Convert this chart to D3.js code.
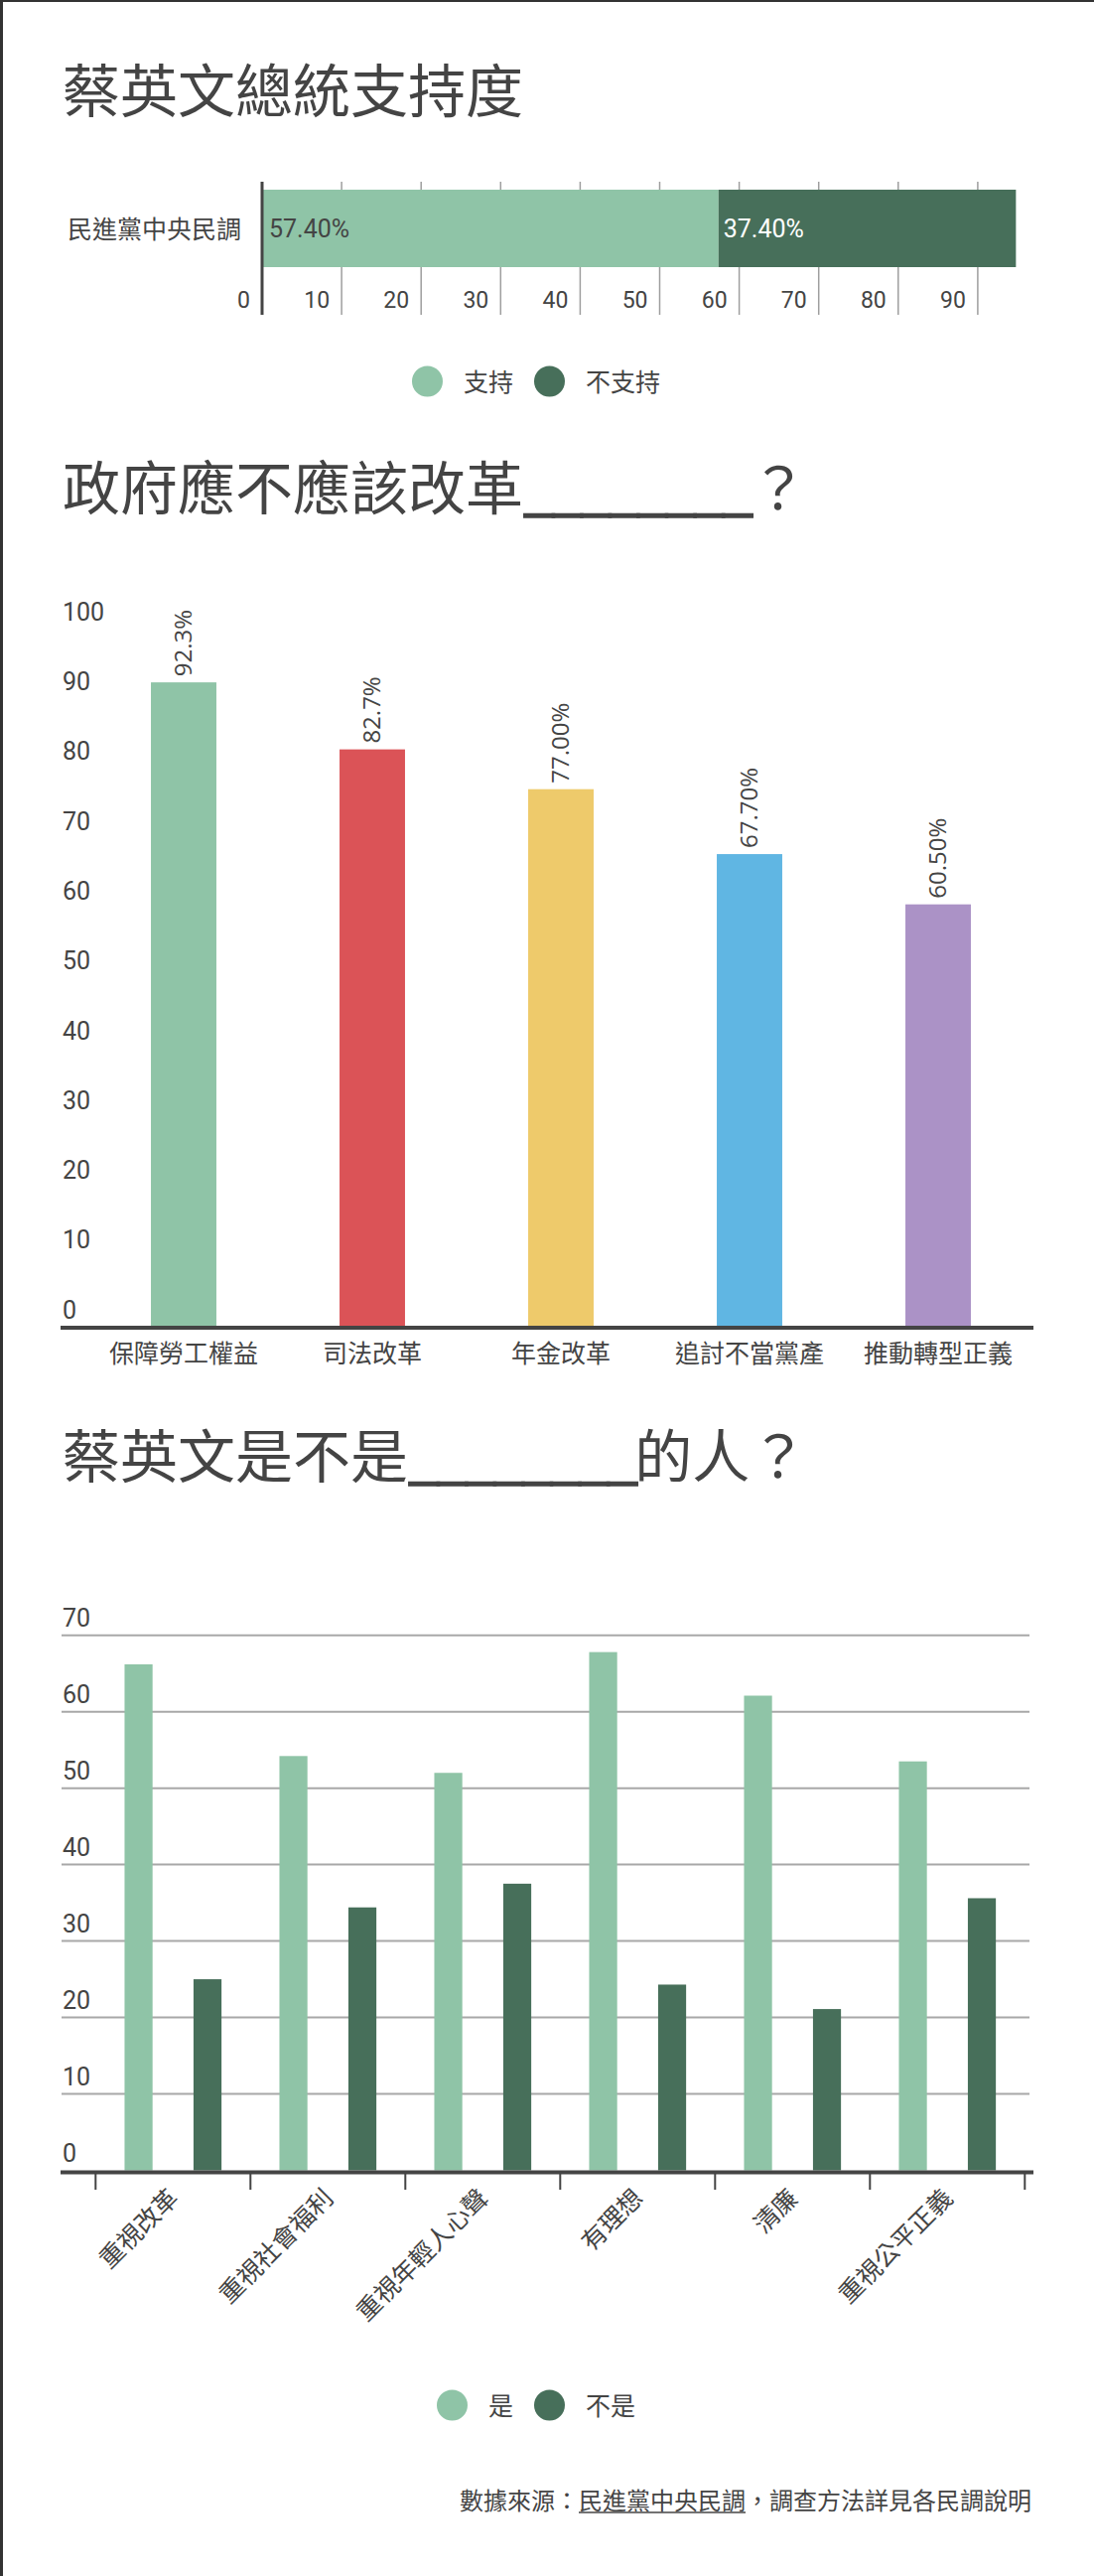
<!DOCTYPE html>
<html><head><meta charset="utf-8">
<script src="https://cdn.jsdelivr.net/npm/d3@7"></script>
<style>
body{margin:0;background:#fff;}
svg text{fill:#444;}
</style></head><body>
<svg id="c" width="1102" height="2594"></svg>
<script>
// ---------- data ----------
const supportCategories = ["民進黨中央民調"];
const supportSeries = ["支持", "不支持"];
const supportValues = [57.4, 37.4];
const supportLabels = ["57.40%", "37.40%"];
const supportTicks = [0, 10, 20, 30, 40, 50, 60, 70, 80, 90];

const reformCategories = ["保障勞工權益", "司法改革", "年金改革", "追討不當黨產", "推動轉型正義"];
const reformValues = [92.3, 82.7, 77.0, 67.7, 60.5];
const reformLabels = ["92.3%", "82.7%", "77.00%", "67.70%", "60.50%"];
const reformColors = ["#8fc4a7", "#db5357", "#eeca6b", "#60b6e3", "#ab92c6"];
const reformTicks = [0, 10, 20, 30, 40, 50, 60, 70, 80, 90, 100];

const traitCategories = ["重視改革", "重視社會福利", "重視年輕人心聲", "有理想", "清廉", "重視公平正義"];
const traitSeries = ["是", "不是"];
const traitYes = [66.2, 54.2, 52.0, 67.8, 62.1, 53.5];
const traitNo = [25.0, 34.4, 37.5, 24.3, 21.1, 35.6];
const traitTicks = [0, 10, 20, 30, 40, 50, 60, 70];

const seriesColors = ["#8fc4a7", "#476f5a"];
const titles = ["蔡英文總統支持度", "政府應不應該改革________？", "蔡英文是不是________的人？"];

// ---------- drawing ----------
const CJK = "'Noto Sans CJK TC', 'Noto Sans CJK SC', sans-serif";
const NUM = "Roboto, 'Noto Sans CJK TC', sans-serif";
const svg = d3.select("#c");
const TXT = "#444";

// frame
svg.append("rect").attr("x", 0).attr("y", 0).attr("width", 1102).attr("height", 2).attr("fill", "#333");
svg.append("rect").attr("x", 0).attr("y", 0).attr("width", 3).attr("height", 2594).attr("fill", "#333");

function title(t, cy) {
  const el = svg.append("text").attr("x", 63).attr("y", cy).attr("dy", "0.38em")
    .style("font-family", CJK).style("font-size", "58px");
  t.split(/(_+)/).filter(s => s.length).forEach(part => {
    const ts = el.append("tspan").text(part);
    if (part[0] === "_") {
      ts.style("letter-spacing", "-3.9px").style("stroke", "#444").style("stroke-width", "1.4px");
    }
  });
}
title(titles[0], 91);
title(titles[1], 491);
title(titles[2], 1466);

function legend(cy, names) {
  const split = 538;
  const g = svg.append("g");
  const t1 = g.append("text").attr("x", split - 21).attr("y", cy).attr("dy", "0.38em")
    .attr("text-anchor", "end").style("font-family", CJK).style("font-size", "25px").text(names[0]);
  const w1 = t1.node().getComputedTextLength();
  g.append("circle").attr("cx", split - 21 - w1 - 21 - 15.5).attr("cy", cy).attr("r", 15.5).attr("fill", seriesColors[0]);
  g.append("circle").attr("cx", split + 15.5).attr("cy", cy).attr("r", 15.5).attr("fill", seriesColors[1]);
  g.append("text").attr("x", split + 52).attr("y", cy).attr("dy", "0.38em")
    .style("font-family", CJK).style("font-size", "25px").text(names[1]);
}

// ===== Chart 1: stacked horizontal bar =====
{
  const x = d3.scaleLinear().domain([0, 100]).range([264, 1065]);
  const y = d3.scaleBand().domain(supportCategories).range([191, 269]).padding(0);
  const g = svg.append("g");
  g.selectAll("line.grid").data(supportTicks.filter(d => d > 0)).join("line")
    .attr("x1", d => x(d)).attr("x2", d => x(d)).attr("y1", 183).attr("y2", 317)
    .attr("stroke", "#9e9e9e").attr("stroke-width", 1.5);
  let acc = 0;
  const stack = supportValues.map((v, i) => { const s = acc; acc += v; return { s, e: acc, i }; });
  g.selectAll("rect.bar").data(stack).join("rect")
    .attr("x", d => x(d.s)).attr("width", d => x(d.e) - x(d.s))
    .attr("y", y(supportCategories[0])).attr("height", y.bandwidth())
    .attr("fill", d => seriesColors[d.i]);
  g.selectAll("text.val").data(stack).join("text")
    .attr("x", d => x(d.s) + (d.i === 0 ? 7 : 5))
    .attr("y", y(supportCategories[0]) + y.bandwidth() / 2).attr("dy", "0.35em")
    .style("font-family", NUM).style("font-size", "25px")
    .style("fill", d => d.i === 0 ? TXT : "#fff")
    .text(d => supportLabels[d.i]);
  g.append("line").attr("x1", x(0)).attr("x2", x(0)).attr("y1", 183).attr("y2", 317)
    .attr("stroke", "#444").attr("stroke-width", 3);
  g.selectAll("text.tick").data(supportTicks).join("text")
    .attr("x", d => x(d) - 12).attr("y", 302).attr("dy", "0.35em").attr("text-anchor", "end")
    .style("font-family", NUM).style("font-size", "23px").text(d => d);
  g.append("text").attr("x", 243).attr("y", y(supportCategories[0]) + y.bandwidth() / 2).attr("dy", "0.38em")
    .attr("text-anchor", "end").style("font-family", CJK).style("font-size", "25px").text(supportCategories[0]);
  legend(384, supportSeries);
}

// ===== Chart 2: vertical bars =====
{
  const x = d3.scaleBand().domain(reformCategories).range([90, 1040]).paddingInner(0.653).paddingOuter(0.3265);
  const y = d3.scaleLinear().domain([0, 100]).range([1336, 633]);
  const g = svg.append("g");
  g.selectAll("rect").data(reformValues).join("rect")
    .attr("x", (d, i) => x(reformCategories[i])).attr("width", x.bandwidth())
    .attr("y", d => y(d)).attr("height", d => y(0) - y(d))
    .attr("fill", (d, i) => reformColors[i]);
  g.append("line").attr("x1", 61).attr("x2", 1041).attr("y1", 1337).attr("y2", 1337)
    .attr("stroke", "#444").attr("stroke-width", 4);
  g.selectAll("text.yt").data(reformTicks).join("text")
    .attr("x", 63).attr("y", d => y(d) - 17).attr("dy", "0.35em")
    .style("font-family", NUM).style("font-size", "25px").text(d => d);
  g.selectAll("text.xl").data(reformCategories).join("text")
    .attr("x", d => x(d) + x.bandwidth() / 2).attr("y", 1362).attr("dy", "0.38em").attr("text-anchor", "middle")
    .style("font-family", CJK).style("font-size", "25px").text(d => d);
  g.selectAll("text.vl").data(reformValues).join("text")
    .attr("transform", (d, i) => `translate(${x(reformCategories[i]) + x.bandwidth() / 2},${y(d) - 6}) rotate(-90)`)
    .attr("dy", "0.35em")
    .style("font-family", "'Open Sans', sans-serif").style("font-size", "24px")
    .text((d, i) => reformLabels[i]);
}

// ===== Chart 3: grouped bars =====
{
  const x0 = d3.scaleBand().domain(traitCategories).range([96.3, 1032.3]).padding(0);
  const x1 = d3.scaleBand().domain(traitSeries).range([0, x0.bandwidth()]).paddingInner(0.594).paddingOuter(0.42);
  const y = d3.scaleLinear().domain([0, 70]).range([2185.5, 1646.7]);
  const g = svg.append("g");
  g.selectAll("line.grid").data(traitTicks.filter(d => d > 0)).join("line")
    .attr("x1", 62).attr("x2", 1037).attr("y1", d => y(d)).attr("y2", d => y(d))
    .attr("stroke", "#a8a8a8").attr("stroke-width", 2);
  const rows = [];
  traitCategories.forEach((c, i) => {
    rows.push({ c, s: traitSeries[0], v: traitYes[i], k: 0 });
    rows.push({ c, s: traitSeries[1], v: traitNo[i], k: 1 });
  });
  g.selectAll("rect").data(rows).join("rect")
    .attr("x", d => x0(d.c) + x1(d.s)).attr("width", x1.bandwidth())
    .attr("y", d => y(d.v)).attr("height", d => y(0) - y(d.v))
    .attr("fill", d => seriesColors[d.k]);
  g.append("line").attr("x1", 61).attr("x2", 1041).attr("y1", 2187.5).attr("y2", 2187.5)
    .attr("stroke", "#444").attr("stroke-width", 4);
  const ticksX = traitCategories.map(c => x0(c)).concat([x0.range()[1]]);
  g.selectAll("line.tk").data(ticksX).join("line")
    .attr("x1", d => d).attr("x2", d => d).attr("y1", 2188).attr("y2", 2205)
    .attr("stroke", "#444").attr("stroke-width", 2);
  g.selectAll("text.yt").data(traitTicks).join("text")
    .attr("x", 63).attr("y", d => y(d) - 17).attr("dy", "0.35em")
    .style("font-family", NUM).style("font-size", "25px").text(d => d);
  g.selectAll("text.xl").data(traitCategories).join("text")
    .attr("transform", d => `translate(${x0(d) + x0.bandwidth() / 2 + 7},${2215}) rotate(-45)`)
    .attr("text-anchor", "end")
    .style("font-family", CJK).style("font-size", "25px").text(d => d);
  legend(2422, traitSeries);
}

// source
{
  const t = svg.append("text").attr("x", 1039).attr("y", 2518).attr("dy", "0.38em").attr("text-anchor", "end")
    .style("font-family", CJK).style("font-size", "24px");
  const parts = ["數據來源：", "民進黨中央民調", "，調查方法詳見各民調說明"];
  parts.forEach(p => t.append("tspan").text(p));
  const n = t.node();
  const start = n.getStartPositionOfChar(5).x;
  const len = n.getSubStringLength(5, 7);
  svg.append("line").attr("x1", start).attr("x2", start + len).attr("y1", 2530).attr("y2", 2530)
    .attr("stroke", "#444").attr("stroke-width", 1.5);
}
</script>
</body></html>
